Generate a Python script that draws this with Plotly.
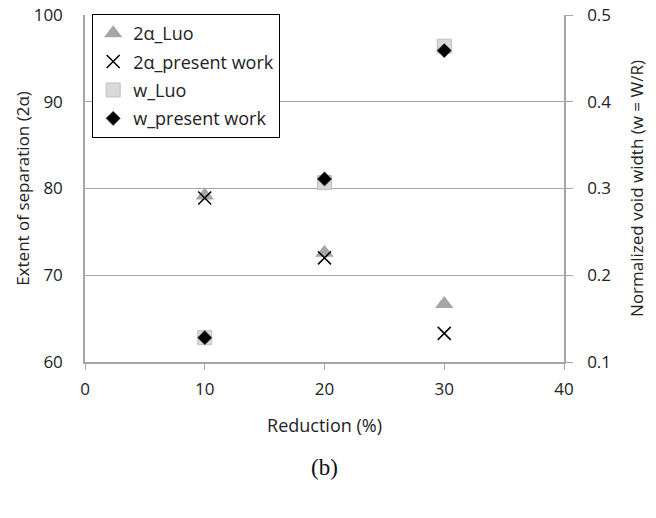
import plotly.graph_objects as go

reduction = [10, 20, 30]
alpha_luo = [79.2, 72.6, 66.7]
alpha_present = [78.9, 72.0, 63.3]
w_luo = [0.128, 0.307, 0.464]
w_present = [0.128, 0.311, 0.459]

GRID = "#a6a6a6"
FONT = "'Open Sans', Lato, sans-serif"
TXT = "#222222"

fig = go.Figure()
fig.add_trace(go.Scatter(x=reduction, y=alpha_luo, mode="markers", name="2α_Luo", legendgroup="a",
                         marker=dict(symbol="triangle-up", size=16, color="#a6a6a6",
                                     line=dict(width=0))))
fig.add_trace(go.Scatter(x=reduction, y=alpha_present, mode="markers", name="2α_present work", legendgroup="b",
                         marker=dict(symbol="x-thin", size=13, color="#000000",
                                     line=dict(width=1.5, color="#000000"))))
fig.add_trace(go.Scatter(x=reduction, y=w_luo, mode="markers", name="w_Luo", yaxis="y2", legendgroup="c",
                         marker=dict(symbol="square", size=14, color="#d9d9d9",
                                     line=dict(width=1, color="#bfbfbf"))))
fig.add_trace(go.Scatter(x=reduction, y=w_present, mode="markers", name="w_present work", yaxis="y2", legendgroup="d",
                         marker=dict(symbol="diamond", size=11, color="#000000",
                                     line=dict(width=0.5, color="#404040"))))

fig.update_layout(
    width=656, height=518,
    margin=dict(l=85, r=92, t=15, b=156, autoexpand=False),
    paper_bgcolor="white", plot_bgcolor="white",
    font=dict(family=FONT, size=17, color=TXT),
    showlegend=True,
    legend=dict(x=0.015, y=1.003, xanchor="left", yanchor="top",
                bgcolor="white", bordercolor="#000000", borderwidth=1,
                font=dict(size=18, color=TXT), tracegroupgap=2,
                itemwidth=30),
    xaxis=dict(range=[0, 40], dtick=10, tick0=0, showgrid=False, zeroline=False,
               showline=True, linecolor=GRID, linewidth=1.5, automargin=False,
               ticks="outside", ticklen=6, tickcolor=GRID, tickwidth=1,
               ticklabelstandoff=5,
               title=dict(text="Reduction (%)", standoff=20, font=dict(size=18)),
               tickfont=dict(size=17)),
    xaxis3=dict(range=[0, 40], dtick=10, tick0=0, overlaying="x", anchor="y",
                showgrid=False, zeroline=False, showline=False, showticklabels=False,
                ticks="inside", ticklen=6, tickcolor=GRID, tickwidth=1),
    yaxis=dict(range=[60, 100], dtick=10, showgrid=True, gridcolor=GRID, gridwidth=1,
               zeroline=False, showline=True, linecolor=GRID, linewidth=1.5, automargin=False,
               ticks="", ticklabelstandoff=17,
               title=dict(text="Extent of separation (2α)", standoff=0, font=dict(size=17)),
               tickfont=dict(size=17)),
    yaxis2=dict(range=[0.1, 0.5], dtick=0.1, overlaying="y", side="right",
                showgrid=False, zeroline=False, showline=True, linecolor=GRID, linewidth=1.5,
                automargin=False,
                ticks="outside", ticklen=7, tickcolor=GRID, tickwidth=1,
                tickformat=".1f", ticklabelstandoff=11,
                title=dict(text="Normalized void width (w = W/R)", standoff=21, font=dict(size=17)),
                tickfont=dict(size=17)),
)

fig.add_annotation(text="(b)", xref="paper", yref="paper", x=0.5, y=-0.305,
                   xanchor="center", yanchor="middle", showarrow=False,
                   font=dict(family="'Liberation Serif', 'DejaVu Serif', serif", size=23, color="#111111"))

fig.write_html("out.html")
